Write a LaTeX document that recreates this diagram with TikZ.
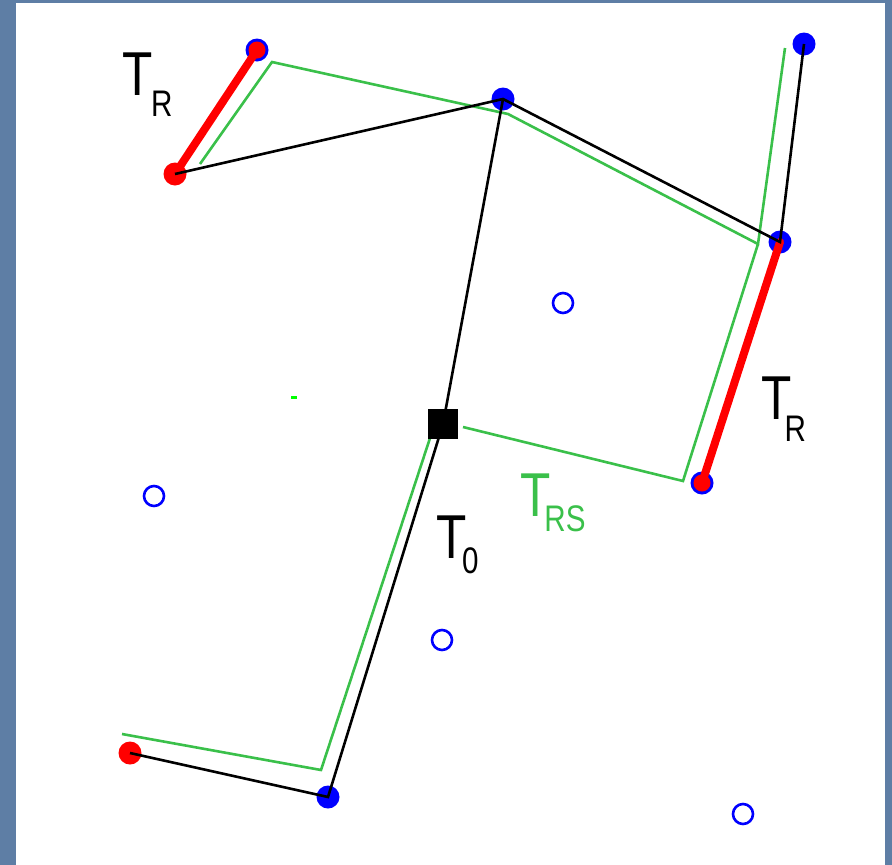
\documentclass[tikz,border=0pt]{standalone}
\usepackage{fontspec}
\setmainfont{Liberation Sans}
\definecolor{bgblue}{RGB}{94,126,165}
\definecolor{lgreen}{RGB}{58,192,74}
\begin{document}
\begin{tikzpicture}[x=1pt,y=-1pt,
  blackline/.style={draw=black,line width=2.6pt},
  greenline/.style={draw=lgreen,line width=2.6pt},
  redline/.style={draw=red,line width=8pt,line cap=round},
  bluedot/.style={circle,fill=blue,inner sep=0pt,minimum size=23pt},
  reddot/.style={circle,fill=red,inner sep=0pt,minimum size=23pt},
  redcore/.style={circle,fill=red,inner sep=0pt,minimum size=17pt},
  opendot/.style={circle,draw=blue,line width=2.6pt,inner sep=0pt,minimum size=20pt},
  sqbox/.style={rectangle,fill=black,inner sep=0pt,minimum size=30pt},
  lbl/.style={anchor=base west,inner sep=0pt,outer sep=0pt}]
\useasboundingbox (0,0) rectangle (892,865);
\fill[bgblue] (0,0) rectangle (892,865);
\fill[white] (16,3) rectangle (885,865);
% named points
\coordinate (A) at (175,174);
\coordinate (B) at (257,50);
\coordinate (C) at (503,99);
\coordinate (D) at (780,242);
\coordinate (E) at (804,44);
\coordinate (F) at (702,483);
\coordinate (S) at (443,424);
\coordinate (G) at (328,797);
\coordinate (H) at (130,753);
% green outline corners
\coordinate (g1) at (200,164);
\coordinate (g2) at (272,62);
\coordinate (g3) at (508,114);
\coordinate (g4) at (758,244);
\coordinate (g5) at (785,48);
\coordinate (g6) at (683,481);
\coordinate (g7) at (463,427);
\coordinate (g8) at (432,432);
\coordinate (g9) at (321,770);
\coordinate (g10) at (122,734);
% open circles
\node[opendot] (o1) at (563,303) {};
\node[opendot] (o2) at (154,496) {};
\node[opendot] (o3) at (442,640) {};
\node[opendot] (o4) at (743,814) {};
% small green mark
\fill[green] (290.5,395.5) rectangle (296.5,398.5);
% dots
\node[bluedot] (dB) at (B) {};
\node[bluedot] (dC) at (C) {};
\node[bluedot] (dD) at (D) {};
\node[bluedot] (dE) at (E) {};
\node[bluedot] (dF) at (F) {};
\node[bluedot] (dG) at (G) {};
\node[redcore] (rB) at (B) {};
\node[redcore] (rF) at (F) {};
\node[reddot] (dA) at (A) {};
\node[reddot] (dH) at (H) {};
% green outline
\draw[greenline] (g1) -- (g2) -- (g3) -- (g4) -- (g5);
\draw[greenline] (g4) -- (g6) -- (g7);
\draw[greenline] (g8) -- (g9) -- (g10);
% red thick
\draw[redline] (A) -- (B);
\draw[redline] (D) -- (F);
% black lines
\draw[blackline] (A) -- (C) -- (D) -- (E);
\draw[blackline] (C) -- (S) -- (G) -- (H);
\node[sqbox] (sq) at (S) {};
% labels
\node[lbl] (l1) at (122.4,95.7) {\scalebox{0.8}[1]{\fontsize{62}{62}\selectfont T\kern-2pt\raisebox{-21pt}{\fontsize{37}{37}\selectfont R}}};
\node[lbl] (l2) at (761.1,419.3) {\scalebox{0.8}[1]{\fontsize{62}{62}\selectfont T\kern-8.6pt\raisebox{-22.4pt}{\fontsize{37}{37}\selectfont R}}};
\node[lbl] (l3) at (436.7,558.3) {\scalebox{0.8}[1]{\fontsize{62}{62}\selectfont T\kern-6pt\raisebox{-15pt}{\fontsize{37}{37}\selectfont 0}}};
\node[lbl,text=lgreen] (l4) at (520.4,516.7) {\scalebox{0.8}[1]{\fontsize{62}{62}\selectfont T\kern-7.9pt\raisebox{-15pt}{\fontsize{37}{37}\selectfont RS}}};
\end{tikzpicture}
\end{document}
